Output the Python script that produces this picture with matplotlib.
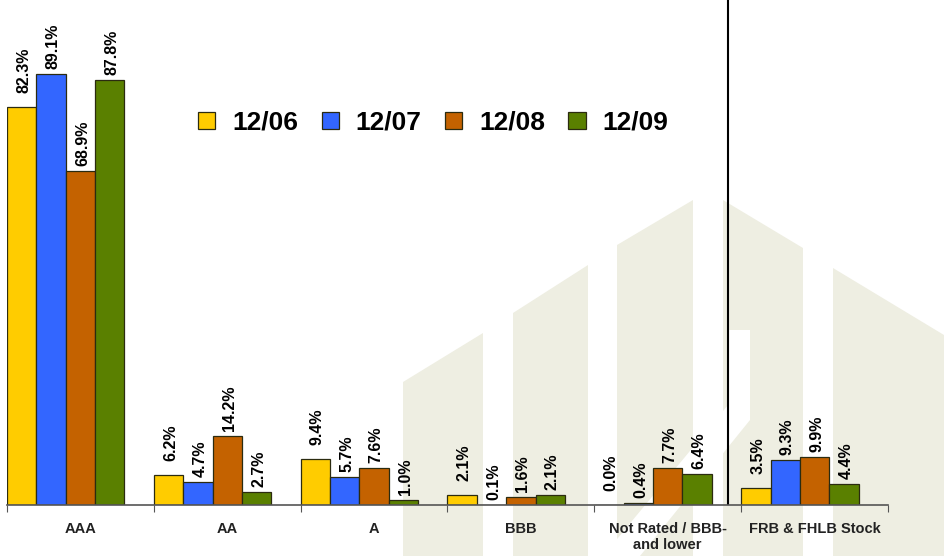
import matplotlib
matplotlib.use("Agg")
import matplotlib.pyplot as plt
from matplotlib.patches import Patch, Polygon

plt.rcParams['font.family'] = ['Liberation Sans', 'DejaVu Sans']

# data
categories = ['AAA', 'AA', 'A', 'BBB', 'Not Rated / BBB-\nand lower', 'FRB & FHLB Stock']
periods = ['12/06', '12/07', '12/08', '12/09']
pct_1206 = [82.3, 6.2, 9.4, 2.1, 0.0, 3.5]
pct_1207 = [89.1, 4.7, 5.7, 0.1, 0.4, 9.3]
pct_1208 = [68.9, 14.2, 7.6, 1.6, 7.7, 9.9]
pct_1209 = [87.8, 2.7, 1.0, 2.1, 6.4, 4.4]

series = [pct_1206, pct_1207, pct_1208, pct_1209]
colors = ['#FFCC00', '#3366FF', '#C46200', '#5A8000']
label_offsets = [14, 5, 5, 5]  # pixels above bar top

W, H = 944, 556
fig = plt.figure(figsize=(W / 100, H / 100), dpi=100)

# faint building watermark in the background
bg = fig.add_axes([0, 0, 1, 1], zorder=0)
bg.set_xlim(0, W)
bg.set_ylim(H, 0)
bg.axis('off')
wm = '#EEEEE2'
shapes = [
    [(403, 382), (483, 333), (483, H), (403, H)],
    [(513, 313), (588, 265), (588, H), (513, H)],
    [(617, 245), (693, 200), (693, H), (617, H)],
    [(723, 200), (803, 248), (803, H), (723, H)],
    [(833, 268), (W, 335), (W, H), (833, H)],
]
for pts in shapes:
    bg.add_patch(Polygon(pts, closed=True, facecolor=wm, edgecolor='none'))
bg.add_patch(Polygon([(603, H), (640, H), (750, 420), (750, 330), (728, 330), (728, 405)],
                     closed=True, facecolor='white', edgecolor='none'))

ax = fig.add_axes([7 / W, 51 / H, 881 / W, 505 / H], zorder=1)
ax.patch.set_alpha(0)

bw = 0.2
for j, vals in enumerate(series):
    xs = [i + (j + 0.5) * bw for i in range(len(categories))]
    ax.bar(xs, vals, width=bw, color=colors[j], edgecolor='#2b2b10',
           linewidth=0.9, label=periods[j])
    for x, v in zip(xs, vals):
        ax.annotate(f'{v:.1f}%', xy=(x, v), xytext=(1.5, label_offsets[j] * 0.72),
                    textcoords='offset points', rotation=90, ha='center',
                    va='bottom', fontsize=11.5, fontweight='bold')

ax.set_xlim(0, len(categories))
ax.set_ylim(0, 104.3)

for s in ['top', 'right', 'left']:
    ax.spines[s].set_visible(False)
ax.spines['bottom'].set_color('#555555')
ax.spines['bottom'].set_linewidth(1.2)
ax.set_yticks([])

ax.set_xticks(range(len(categories) + 1))
ax.set_xticklabels([])
ax.tick_params(axis='x', which='major', length=5, color='#555555', direction='out')
ax.set_xticks([i + 0.5 for i in range(len(categories))], minor=True)
ax.set_xticklabels(categories, minor=True, fontsize=10.5, fontweight='bold',
                   color='#222222')
ax.tick_params(axis='x', which='minor', length=0, pad=12)

# divider between ratings and stock holdings
ax.axvline(4.91, 0, 1, color='black', linewidth=1.5)

handles = [Patch(facecolor=c, edgecolor='#2b2b10', linewidth=0.9) for c in colors]
fig.legend(handles, periods, loc='center', bbox_to_anchor=(0.459, 0.779), ncol=4,
           frameon=False, prop={'size': 19, 'weight': 'bold'},
           handlelength=0.65, handleheight=0.65, handletextpad=0.65, columnspacing=0.88)

fig.savefig('out.png', dpi=100)
